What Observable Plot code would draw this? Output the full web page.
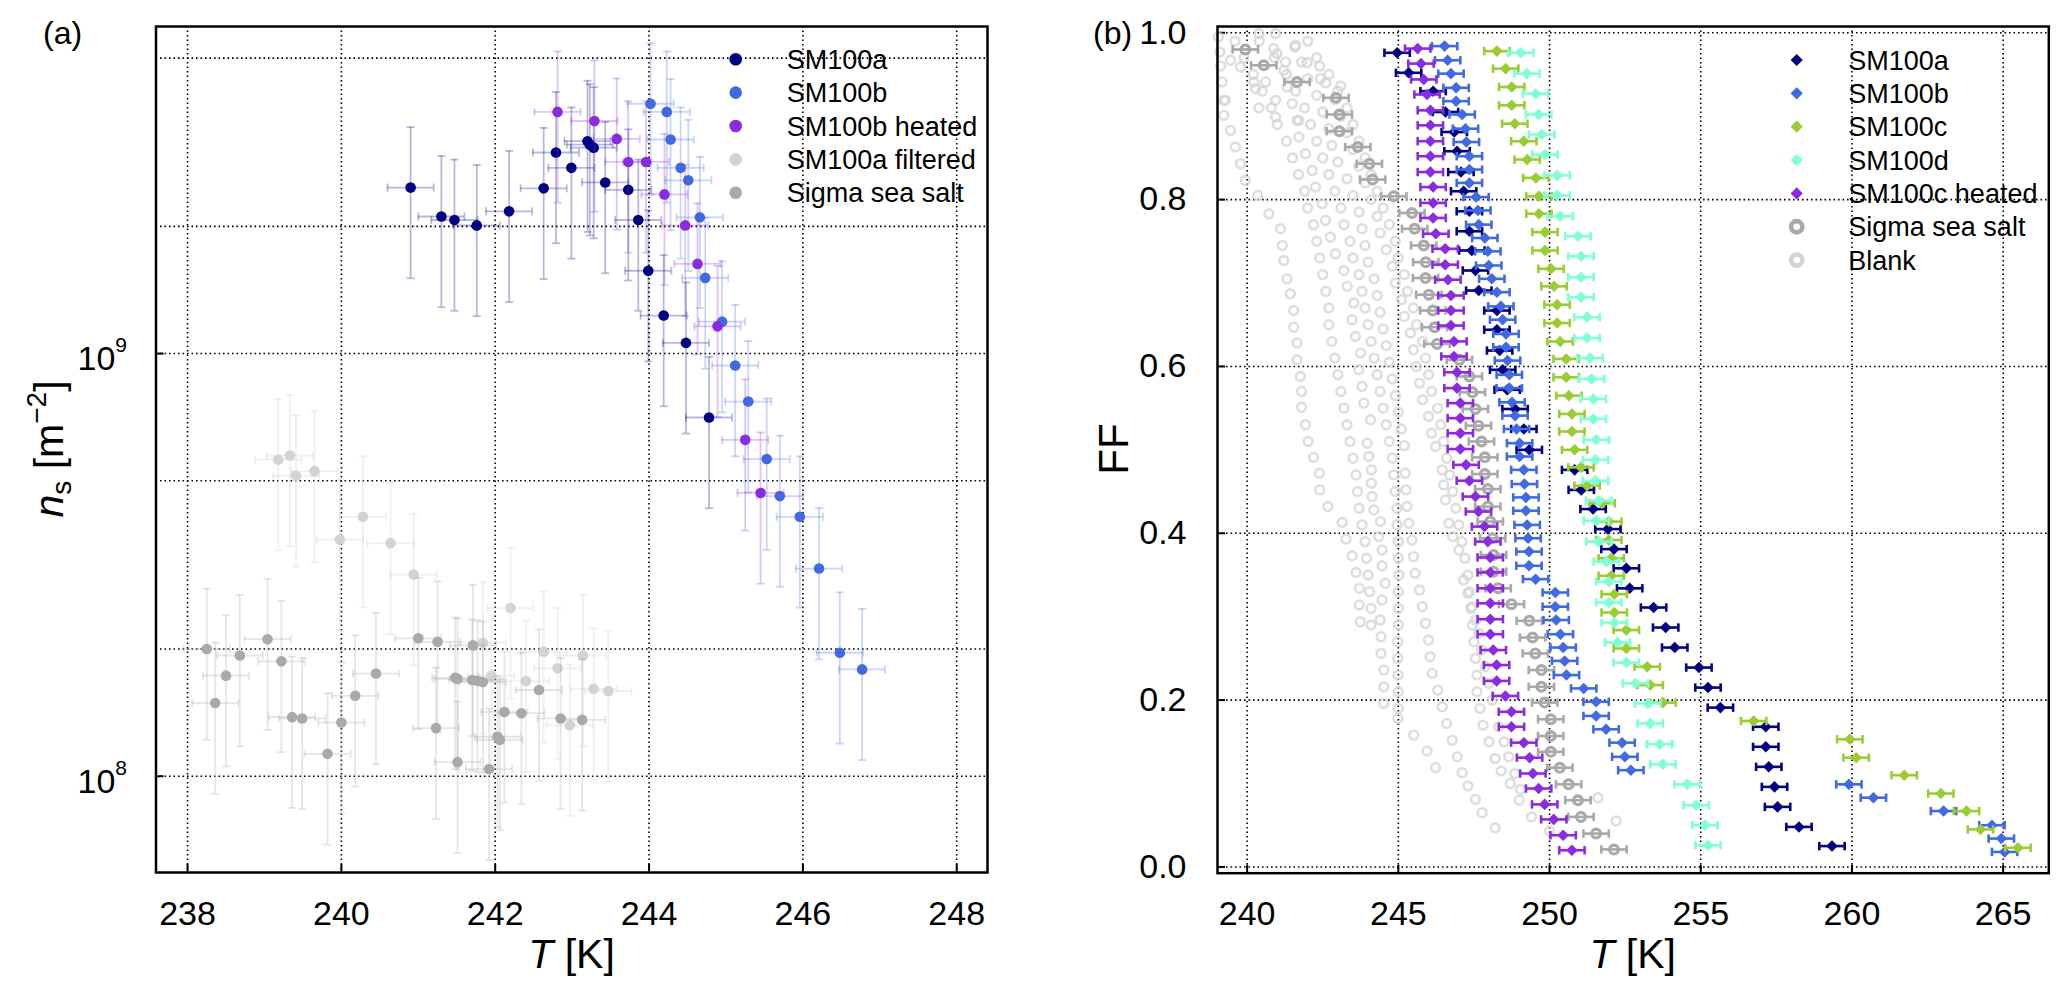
<!DOCTYPE html>
<html><head><meta charset="utf-8">
<script src="https://cdn.jsdelivr.net/npm/d3@7"></script>
<script src="https://cdn.jsdelivr.net/npm/@observablehq/plot@0.6"></script>
<style>
html,body{margin:0;padding:0;background:#fff;}
#wrap{position:relative;width:2067px;height:992px;overflow:hidden;background:#fff;font-family:"Liberation Sans",Arial,sans-serif;}
#pa,#pb,#ov{position:absolute;top:0;}
#pa{left:0}#pb{left:1030px}#ov{left:0;pointer-events:none}
</style></head><body>
<div id="wrap"><div id="pa"></div><div id="pb"></div><svg id="ov" width="2067" height="992"></svg></div>
<script>
// ---------------- Panel (a) data ----------------
const aXTicks = [238, 240, 242, 244, 246, 248];
const aYTicks = [1e8, 1e9];
const aYExp = ["8", "9"];
const aYGrid = [1e8, 2e8, 5e8, 1e9, 2e9, 5e9];
const aTErr = 0.3;      // K
const aRelErr = 0.39;   // relative n_s error

const aT_SM100a = [240.90, 241.30, 241.47, 241.76, 242.18, 242.63, 242.79, 242.99, 243.20, 243.23, 243.28, 243.43, 243.73, 243.86, 243.99, 244.19, 244.48, 244.78];
const aNs_SM100a = [2.47e9, 2.11e9, 2.07e9, 2.01e9, 2.17e9, 2.46e9, 2.99e9, 2.75e9, 3.18e9, 3.12e9, 3.07e9, 2.54e9, 2.44e9, 2.07e9, 1.57e9, 1.23e9, 1.06e9, 7.06e8];

const aT_SM100b = [244.02, 244.23, 244.28, 244.41, 244.51, 244.66, 244.73, 244.95, 245.12, 245.29, 245.53, 245.70, 245.96, 246.21, 246.48, 246.77];
const aNs_SM100b = [3.90e9, 3.73e9, 3.21e9, 2.75e9, 2.57e9, 2.10e9, 1.51e9, 1.19e9, 9.37e8, 7.70e8, 5.63e8, 4.60e8, 4.11e8, 3.10e8, 1.96e8, 1.79e8];

const aT_SM100bHeated = [242.81, 243.29, 243.58, 243.73, 243.96, 244.20, 244.47, 244.63, 244.89, 245.25, 245.45];
const aNs_SM100bHeated = [3.73e9, 3.55e9, 3.22e9, 2.84e9, 2.84e9, 2.38e9, 2.01e9, 1.63e9, 1.16e9, 6.25e8, 4.68e8];

const aT_SM100aFiltered = [239.18, 239.33, 239.41, 239.65, 239.98, 240.28, 240.64, 240.94, 242.20, 241.84, 242.63, 243.14, 242.81, 241.95, 242.40, 243.28, 243.47, 242.97];
const aNs_SM100aFiltered = [5.61e8, 5.74e8, 5.14e8, 5.27e8, 3.63e8, 4.11e8, 3.56e8, 3.00e8, 2.50e8, 2.07e8, 1.97e8, 1.93e8, 1.80e8, 1.73e8, 1.68e8, 1.61e8, 1.59e8, 1.32e8];

const aT_Sigma = [238.25, 238.50, 238.36, 238.68, 239.04, 239.22, 239.36, 239.49, 239.82, 240.00, 240.18, 240.45, 241.00, 241.25, 241.23, 241.48, 241.51, 241.51, 241.71, 241.70, 241.77, 241.84, 241.92, 242.03, 242.06, 242.12, 242.34, 242.57, 242.85, 243.13];
const aNs_Sigma = [2.00e8, 1.73e8, 1.49e8, 1.93e8, 2.11e8, 1.87e8, 1.38e8, 1.37e8, 1.13e8, 1.34e8, 1.55e8, 1.75e8, 2.12e8, 2.08e8, 1.30e8, 1.71e8, 1.70e8, 1.08e8, 2.04e8, 1.69e8, 1.68e8, 1.67e8, 1.04e8, 1.24e8, 1.22e8, 1.42e8, 1.41e8, 1.60e8, 1.37e8, 1.36e8];

const aLegendNames = ["SM100a", "SM100b", "SM100b heated", "SM100a filtered", "Sigma sea salt"];
const aLegendColors = ["#000080", "#4169E1", "#8A2BE2", "#D3D3D3", "#A9A9A9"];

// ---------------- Panel (b) data ----------------
const bXTicks = [240, 245, 250, 255, 260, 265];
const bYTicks = [0, 0.2, 0.4, 0.6, 0.8, 1.0];
const bTErr = 0.42;

const bT_SM100a = [244.96, 245.34, 246.15, 246.56, 246.85, 246.94, 247.07, 247.16, 247.35, 247.35, 247.43, 247.55, 247.66, 248.26, 248.26, 248.35, 248.45, 248.60, 248.86, 249.15, 249.33, 250.83, 251.05, 251.44, 251.93, 252.13, 252.54, 252.65, 253.44, 253.84, 254.14, 254.94, 255.24, 255.65, 257.15, 257.15, 257.25, 257.44, 257.54, 258.25, 259.34];
const bFF_SM100a = [0.976, 0.952, 0.930, 0.905, 0.881, 0.858, 0.833, 0.810, 0.786, 0.762, 0.739, 0.715, 0.691, 0.667, 0.644, 0.619, 0.596, 0.572, 0.549, 0.525, 0.500, 0.476, 0.452, 0.429, 0.405, 0.381, 0.358, 0.334, 0.311, 0.287, 0.263, 0.239, 0.215, 0.191, 0.168, 0.144, 0.120, 0.096, 0.072, 0.048, 0.025];

const bT_SM100b = [246.53, 246.63, 246.74, 246.91, 246.91, 247.11, 247.22, 247.25, 247.35, 247.35, 247.35, 247.57, 247.63, 247.66, 247.86, 247.96, 247.99, 248.09, 248.26, 248.39, 248.45, 248.56, 248.56, 248.61, 248.67, 248.67, 248.76, 248.86, 248.91, 249.01, 249.01, 249.15, 249.17, 249.22, 249.22, 249.26, 249.29, 249.32, 249.32, 249.54, 250.19, 250.19, 250.22, 250.36, 250.45, 250.50, 250.56, 251.13, 251.54, 251.54, 251.87, 252.40, 252.49, 252.69, 259.90, 260.71, 263.03, 264.63, 264.94, 265.05];
const bFF_SM100b = [0.984, 0.967, 0.951, 0.934, 0.918, 0.902, 0.885, 0.869, 0.852, 0.836, 0.820, 0.803, 0.787, 0.770, 0.754, 0.738, 0.721, 0.705, 0.689, 0.672, 0.656, 0.639, 0.623, 0.607, 0.590, 0.574, 0.557, 0.541, 0.525, 0.508, 0.492, 0.476, 0.459, 0.443, 0.427, 0.410, 0.394, 0.378, 0.361, 0.345, 0.329, 0.312, 0.296, 0.279, 0.263, 0.247, 0.230, 0.214, 0.198, 0.181, 0.165, 0.149, 0.132, 0.116, 0.099, 0.083, 0.067, 0.050, 0.034, 0.018];

const bT_SM100c = [248.26, 248.55, 248.75, 248.75, 248.85, 249.15, 249.26, 249.55, 249.65, 249.65, 249.85, 249.85, 250.05, 250.15, 250.25, 250.25, 250.35, 250.55, 250.55, 250.64, 250.74, 250.74, 250.83, 251.04, 251.24, 251.74, 251.96, 251.96, 252.04, 252.04, 252.14, 252.14, 252.54, 252.54, 253.23, 253.33, 253.75, 256.75, 259.93, 260.14, 261.73, 262.94, 263.79, 264.25, 265.49];
const bFF_SM100c = [0.978, 0.957, 0.935, 0.913, 0.891, 0.870, 0.848, 0.826, 0.804, 0.783, 0.761, 0.739, 0.717, 0.696, 0.674, 0.652, 0.630, 0.609, 0.587, 0.565, 0.543, 0.522, 0.500, 0.479, 0.457, 0.436, 0.414, 0.392, 0.370, 0.349, 0.327, 0.305, 0.284, 0.262, 0.240, 0.218, 0.197, 0.175, 0.153, 0.131, 0.110, 0.088, 0.067, 0.045, 0.023];

const bT_SM100d = [249.05, 249.25, 249.54, 249.64, 249.74, 249.85, 250.25, 250.25, 250.35, 250.94, 251.04, 251.04, 251.04, 251.24, 251.24, 251.34, 251.39, 251.45, 251.45, 251.55, 251.52, 251.52, 251.63, 251.55, 251.63, 251.88, 251.96, 251.96, 252.14, 252.25, 252.54, 252.84, 253.25, 253.33, 253.64, 253.75, 254.55, 254.85, 255.14, 255.24];
const bFF_SM100d = [0.976, 0.951, 0.927, 0.902, 0.878, 0.854, 0.829, 0.805, 0.780, 0.756, 0.732, 0.707, 0.683, 0.659, 0.634, 0.610, 0.585, 0.561, 0.537, 0.512, 0.488, 0.463, 0.439, 0.415, 0.390, 0.366, 0.342, 0.317, 0.293, 0.269, 0.245, 0.220, 0.196, 0.172, 0.147, 0.123, 0.099, 0.074, 0.050, 0.026];

const bT_SM100cHeated = [245.64, 245.75, 245.84, 245.95, 246.06, 246.06, 246.06, 246.06, 246.06, 246.15, 246.15, 246.15, 246.24, 246.55, 246.55, 246.64, 246.74, 246.74, 246.74, 246.84, 246.84, 246.94, 246.94, 247.05, 247.05, 247.05, 247.05, 247.24, 247.35, 247.55, 247.65, 247.85, 247.96, 248.04, 248.04, 248.04, 248.04, 248.04, 248.04, 248.14, 248.25, 248.25, 248.54, 248.74, 248.74, 249.15, 249.34, 249.45, 249.64, 249.84, 250.14, 250.45, 250.74];
const bFF_SM100cHeated = [0.981, 0.963, 0.944, 0.926, 0.907, 0.889, 0.870, 0.852, 0.833, 0.815, 0.796, 0.778, 0.759, 0.741, 0.722, 0.704, 0.685, 0.667, 0.649, 0.630, 0.612, 0.593, 0.574, 0.556, 0.538, 0.520, 0.501, 0.482, 0.463, 0.444, 0.426, 0.408, 0.390, 0.371, 0.353, 0.334, 0.316, 0.297, 0.279, 0.260, 0.242, 0.223, 0.205, 0.186, 0.168, 0.149, 0.131, 0.112, 0.094, 0.075, 0.057, 0.038, 0.020];

const bT_Sigma = [239.94, 240.55, 241.65, 242.94, 243.05, 243.05, 243.66, 244.04, 244.15, 244.85, 245.45, 245.54, 245.84, 245.91, 245.90, 246.01, 246.14, 246.20, 246.28, 247.02, 247.35, 247.45, 247.55, 247.65, 247.75, 247.86, 247.86, 247.96, 247.96, 248.04, 248.12, 248.15, 248.15, 248.30, 248.74, 249.33, 249.44, 249.53, 249.73, 249.73, 249.84, 250.04, 250.04, 250.04, 250.34, 250.63, 250.94, 251.04, 251.54, 252.13];
const bFF_Sigma = [0.980, 0.961, 0.941, 0.922, 0.902, 0.882, 0.863, 0.843, 0.824, 0.804, 0.784, 0.765, 0.745, 0.725, 0.706, 0.686, 0.667, 0.647, 0.627, 0.608, 0.588, 0.569, 0.549, 0.529, 0.510, 0.491, 0.471, 0.453, 0.432, 0.414, 0.394, 0.374, 0.354, 0.334, 0.315, 0.295, 0.275, 0.256, 0.236, 0.216, 0.197, 0.177, 0.157, 0.138, 0.119, 0.099, 0.080, 0.060, 0.040, 0.021];

// Blank runs: [T, FF]
const blank1 = [[239.05,0.995],[239.1,0.977],[239.12,0.96],[239.17,0.941],[239.23,0.919],[239.23,0.901],[239.45,0.883],[239.61,0.863],[239.78,0.843],[239.94,0.823],[240.35,0.805],[240.72,0.783],[241.10,0.765],[241.16,0.745],[241.21,0.727],[241.32,0.705],[241.43,0.687],[241.54,0.667],[241.54,0.647],[241.65,0.628],[241.65,0.608],[241.76,0.588],[241.80,0.570],[241.80,0.551],[241.93,0.530],[242.02,0.510],[242.20,0.491],[242.39,0.472],[242.40,0.452],[242.67,0.432],[243.14,0.413],[243.27,0.393],[243.47,0.373],[243.60,0.353],[243.71,0.334],[243.71,0.314],[243.74,0.294]];
const blank2 = [[240.99,0.975],[241.21,0.955],[241.32,0.935],[241.49,0.915],[241.71,0.895],[241.71,0.875],[241.93,0.855],[242.15,0.835],[242.26,0.815],[242.48,0.795],[242.59,0.775],[242.75,0.755],[242.92,0.735],[243.2,0.715],[243.31,0.696],[243.53,0.676],[243.47,0.656],[243.58,0.636],[243.75,0.616],[243.69,0.596],[243.8,0.576],[243.86,0.556],[244.08,0.536],[243.97,0.508],[244.02,0.492],[244.11,0.476],[244.11,0.46],[244.13,0.444],[244.19,0.428],[244.41,0.414],[244.35,0.396],[244.46,0.38],[244.46,0.361],[244.57,0.34],[244.46,0.32],[244.4,0.296],[244.43,0.276],[244.43,0.256],[244.52,0.236],[244.52,0.216],[244.52,0.196]];
const blank3 = [[240.4,0.99],[240.9,0.97],[241.3,0.95],[241.6,0.93],[241.9,0.91],[242.1,0.89],[242.3,0.87],[242.5,0.85],[242.7,0.83],[242.9,0.81],[243.1,0.79],[243.2,0.77],[243.4,0.75],[243.5,0.73],[243.7,0.71],[243.8,0.69],[243.9,0.67],[244.0,0.65],[244.1,0.63],[244.2,0.61],[244.3,0.59],[244.4,0.57],[244.5,0.55],[244.6,0.53],[244.7,0.51],[244.8,0.49],[244.85,0.47],[244.9,0.45],[244.95,0.43],[244.96,0.41],[245.0,0.39],[245.0,0.37],[245.02,0.35],[245.0,0.33],[245.0,0.31],[245.0,0.29],[244.98,0.27],[244.98,0.25],[244.99,0.23],[245.0,0.21],[245.0,0.19],[244.99,0.178],[245.51,0.158],[245.95,0.139],[246.23,0.119]];
const blank4 = [[241.6,0.985],[241.8,0.965],[242.0,0.945],[242.3,0.925],[242.5,0.905],[242.7,0.885],[242.8,0.865],[243.0,0.845],[243.3,0.825],[243.5,0.805],[243.7,0.785],[243.8,0.765],[243.9,0.745],[244.0,0.725],[244.2,0.705],[244.3,0.685],[244.4,0.665],[244.5,0.645],[244.6,0.625],[244.7,0.605],[244.8,0.585],[244.9,0.565],[245.0,0.545],[245.1,0.525],[245.2,0.505],[245.23,0.472],[245.25,0.452],[245.29,0.432],[245.35,0.412],[245.45,0.392],[245.5,0.372],[245.56,0.352],[245.7,0.332],[245.79,0.312],[245.9,0.292],[246.0,0.272],[246.05,0.252],[246.12,0.232],[246.3,0.212],[246.45,0.192],[246.6,0.172],[246.78,0.152],[246.95,0.132],[247.11,0.113],[247.3,0.097],[247.55,0.081],[247.77,0.065],[248.2,0.047]];
const blank5 = [[242.4,0.96],[242.6,0.94],[242.9,0.92],[243.1,0.9],[243.3,0.88],[243.5,0.86],[243.7,0.84],[243.9,0.82],[244.1,0.8],[244.3,0.78],[244.4,0.76],[244.6,0.74],[244.8,0.72],[244.9,0.7],[245.1,0.68],[245.2,0.66],[245.4,0.64],[245.5,0.62],[245.6,0.6],[245.7,0.58],[245.8,0.56],[246.0,0.54],[246.1,0.52],[246.23,0.504],[246.45,0.476],[246.5,0.458],[246.56,0.44],[246.67,0.412],[246.8,0.396],[247.0,0.38],[247.16,0.344],[247.3,0.328],[247.44,0.312],[247.55,0.296],[247.66,0.28],[247.75,0.26],[247.88,0.24],[248.0,0.22],[248.1,0.2],[248.32,0.168],[248.5,0.15],[248.65,0.132],[248.85,0.112],[249.04,0.093]];
const blank6 = [[242.0,0.99],[242.3,0.97],[242.7,0.95],[243.0,0.93],[243.3,0.91],[243.5,0.89],[243.7,0.87],[243.9,0.85],[244.1,0.83],[244.3,0.81],[244.5,0.79],[244.7,0.77],[244.9,0.75],[245.0,0.73],[245.2,0.71],[245.3,0.69],[245.5,0.67],[245.6,0.65],[245.8,0.63],[245.9,0.61],[246.0,0.59],[246.1,0.57],[246.3,0.55],[246.4,0.53],[246.5,0.51],[246.6,0.49],[246.7,0.47],[246.8,0.45],[246.9,0.43],[247.0,0.41],[247.1,0.39],[247.2,0.37],[247.3,0.35],[247.35,0.33],[247.4,0.31],[247.45,0.29],[247.5,0.27],[247.55,0.25],[247.6,0.23],[247.6,0.21],[247.7,0.19],[247.8,0.17],[248.0,0.15],[248.2,0.13],[248.4,0.115],[248.7,0.1],[249.0,0.08],[249.4,0.06],[250.0,0.043]];
const blank7 = [[239.6,0.99],[239.9,0.97],[240.2,0.95],[240.5,0.93],[240.8,0.91],[241.0,0.89],[241.3,0.87],[241.5,0.85],[241.7,0.83],[241.9,0.81],[242.0,0.79],[242.2,0.77],[242.3,0.75],[242.4,0.73],[242.5,0.71],[242.6,0.69],[242.7,0.67],[242.7,0.65],[242.8,0.63],[242.9,0.61],[243.0,0.59],[243.1,0.57],[243.2,0.55],[243.3,0.53],[243.4,0.51],[243.5,0.49],[243.6,0.47],[243.65,0.45],[243.7,0.43],[243.8,0.41],[243.9,0.39],[243.95,0.37],[244.0,0.35],[244.05,0.33],[244.1,0.31],[244.1,0.29]];
const blankExtra = [[240.39,0.999],[240.94,0.999],[240.88,0.981],[241.58,0.983],[239.45,0.967],[239.78,0.959],[241.27,0.965],[241.98,0.964],[240.22,0.941],[240.61,0.941],[240.28,0.933],[242.42,0.945],[243.09,0.936],[239.28,0.919],[240.39,0.910],[240.94,0.919],[240.94,0.899],[241.65,0.895],[251.6,0.083],[252.2,0.055]];

const bLegendNames = ["SM100a", "SM100b", "SM100c", "SM100d", "SM100c heated", "Sigma sea salt", "Blank"];
const bLegendColors = ["#000080", "#4169E1", "#9ACD32", "#7FFFD4", "#8A2BE2", "#A9A9A9", "#D3D3D3"];

// ---------------- helpers ----------------
const FONT = '"Liberation Sans", Arial, Helvetica, sans-serif';
const vCap = {draw(ctx, size) { const h = Math.sqrt(size / Math.PI); ctx.moveTo(0, -h); ctx.lineTo(0, h); }};
const hCap = {draw(ctx, size) { const h = Math.sqrt(size / Math.PI); ctx.moveTo(-h, 0); ctx.lineTo(h, 0); }};
const gridStyle = {stroke: "#000", strokeOpacity: 1, strokeWidth: 1.6, strokeDasharray: "1.6,2.9"};

function seriesA(T, ns) {
  return T.map((t, i) => ({T: t, ns: ns[i], tl: t - aTErr, th: t + aTErr, lo: ns[i] * (1 - aRelErr), hi: ns[i] * (1 + aRelErr)}));
}
function marksA(data, color, op) {
  const bar = {stroke: color, strokeOpacity: op, strokeWidth: 1.8};
  return [
    Plot.ruleY(data, {y: "ns", x1: "tl", x2: "th", ...bar}),
    Plot.ruleX(data, {x: "T", y1: "lo", y2: "hi", ...bar}),
    Plot.dot(data, {x: "tl", y: "ns", symbol: vCap, r: 4, fill: "none", ...bar}),
    Plot.dot(data, {x: "th", y: "ns", symbol: vCap, r: 4, fill: "none", ...bar}),
    Plot.dot(data, {x: "T", y: "lo", symbol: hCap, r: 4, fill: "none", ...bar}),
    Plot.dot(data, {x: "T", y: "hi", symbol: hCap, r: 4, fill: "none", ...bar}),
    Plot.dot(data, {x: "T", y: "ns", r: 5.3, fill: color, stroke: "none"})
  ];
}
function seriesB(T, FF) {
  return T.map((t, i) => ({T: t, FF: FF[i], tl: t - bTErr, th: t + bTErr}));
}
function marksB(data, color, ring) {
  const bar = {stroke: color, strokeWidth: 2.6};
  const pt = ring
    ? Plot.dot(data, {x: "T", y: "FF", r: 4.4, stroke: color, strokeWidth: 3.2, fill: "none"})
    : Plot.dot(data, {x: "T", y: "FF", symbol: "diamond2", r: 5.2, fill: color, stroke: "none"});
  return [
    Plot.ruleY(data, {y: "FF", x1: "tl", x2: "th", ...bar}),
    Plot.dot(data, {x: "tl", y: "FF", symbol: vCap, r: 4.2, fill: "none", ...bar}),
    Plot.dot(data, {x: "th", y: "FF", symbol: vCap, r: 4.2, fill: "none", ...bar}),
    pt
  ];
}

// ---------------- Panel (a) ----------------
const A = {w: 1030, h: 992, ml: 155.5, mr: 43, mt: 26, mb: 120};
const aInnerW = A.w - A.ml - A.mr, aInnerH = A.h - A.mt - A.mb;
const svgA = Plot.plot({
  width: A.w, height: A.h, marginLeft: A.ml, marginRight: A.mr, marginTop: A.mt, marginBottom: A.mb,
  x: {domain: [237.59, 248.40], label: null},
  y: {type: "log", domain: [5.92e7, 5.94e9], label: null},
  style: {fontFamily: FONT, background: "transparent", overflow: "visible", color: "#000"},
  marks: [
    Plot.gridX(aXTicks, gridStyle),
    Plot.gridY(aYGrid, gridStyle),
    Plot.ruleX(aXTicks, {x: d => d, insetTop: aInnerH - 8, stroke: "#000", strokeWidth: 2}),
    Plot.ruleY(aYTicks, {y: d => d, insetRight: aInnerW - 8, stroke: "#000", strokeWidth: 2}),
    ...marksA(seriesA(aT_SM100a, aNs_SM100a), aLegendColors[0], 0.28),
    ...marksA(seriesA(aT_SM100b, aNs_SM100b), aLegendColors[1], 0.28),
    ...marksA(seriesA(aT_SM100bHeated, aNs_SM100bHeated), aLegendColors[2], 0.28),
    ...marksA(seriesA(aT_SM100aFiltered, aNs_SM100aFiltered), aLegendColors[3], 0.35),
    ...marksA(seriesA(aT_Sigma, aNs_Sigma), aLegendColors[4], 0.3),
    Plot.frame({stroke: "#000", strokeWidth: 2.5}),
    Plot.axisX(aXTicks, {tickSize: 0, tickPadding: 28, fontSize: 34, label: null}),
    Plot.axisY(aYTicks, {tickSize: 0, tickPadding: 29, fontSize: 34, dy: 6, tickFormat: () => "10", label: null})
  ]
});
d3.select(svgA).selectAll('[aria-label="y-axis tick label"] text').each(function (_, i) {
  d3.select(this).append("tspan").attr("dy", "-18").attr("font-size", "21").text(aYExp[i]);
});
document.getElementById("pa").appendChild(svgA);

// ---------------- Panel (b) ----------------
const B = {w: 1037, h: 992, ml: 187, mr: 18.7, mt: 26, mb: 119.3};
const bInnerW = B.w - B.ml - B.mr, bInnerH = B.h - B.mt - B.mb;
const blankAll = [...blank1, ...blank2, ...blank3, ...blank4, ...blank5, ...blank6, ...blank7, ...blankExtra];
const svgB = Plot.plot({
  width: B.w, height: B.h, marginLeft: B.ml, marginRight: B.mr, marginTop: B.mt, marginBottom: B.mb,
  x: {domain: [239.02, 266.51], label: null},
  y: {domain: [-0.0075, 1.0075], label: null},
  style: {fontFamily: FONT, background: "transparent", overflow: "visible", color: "#000"},
  marks: [
    Plot.gridX(bXTicks, gridStyle),
    Plot.gridY(bYTicks, gridStyle),
    Plot.ruleX(bXTicks, {x: d => d, insetTop: bInnerH - 8, stroke: "#000", strokeWidth: 2}),
    Plot.ruleY(bYTicks, {y: d => d, insetRight: bInnerW - 8, stroke: "#000", strokeWidth: 2}),
    Plot.dot(blankAll, {x: d => d[0], y: d => d[1], r: 4.4, stroke: "#D3D3D3", strokeOpacity: 0.75, strokeWidth: 2.6, fill: "none"}),
    ...marksB(seriesB(bT_Sigma, bFF_Sigma), bLegendColors[5], true),
    ...marksB(seriesB(bT_SM100a, bFF_SM100a), bLegendColors[0], false),
    ...marksB(seriesB(bT_SM100b, bFF_SM100b), bLegendColors[1], false),
    ...marksB(seriesB(bT_SM100c, bFF_SM100c), bLegendColors[2], false),
    ...marksB(seriesB(bT_SM100d, bFF_SM100d), bLegendColors[3], false),
    ...marksB(seriesB(bT_SM100cHeated, bFF_SM100cHeated), bLegendColors[4], false),
    Plot.frame({stroke: "#000", strokeWidth: 2.5}),
    Plot.axisX(bXTicks, {tickSize: 0, tickPadding: 28, fontSize: 34, label: null}),
    Plot.axisY(bYTicks, {tickSize: 0, tickPadding: 31, fontSize: 34, tickFormat: d3.format(".1f"), label: null})
  ]
});
document.getElementById("pb").appendChild(svgB);

// ---------------- Overlay: labels and legends ----------------
const ov = d3.select("#ov").attr("font-family", FONT);
ov.append("text").attr("x", 43).attr("y", 44).attr("font-size", 32).text("(a)");
ov.append("text").attr("x", 1093).attr("y", 44).attr("font-size", 32).text("(b)");

function tLabel(cx) {
  const t = ov.append("text").attr("x", cx).attr("y", 968).attr("text-anchor", "middle").attr("font-size", 41);
  t.append("tspan").attr("font-style", "italic").text("T");
  t.append("tspan").text(" [K]");
}
tLabel(571.5);
tLabel(1632.7);

const yl = ov.append("text").attr("transform", "translate(63,449) rotate(-90)").attr("text-anchor", "middle").attr("font-size", 41);
yl.append("tspan").attr("font-style", "italic").text("n");
yl.append("tspan").attr("font-size", 28).attr("dy", 8).text("s");
yl.append("tspan").attr("dy", -8).text(" [m");
yl.append("tspan").attr("font-size", 28).attr("dy", -17).text("\u22122");
yl.append("tspan").attr("dy", 17).text("]");

ov.append("text").attr("transform", "translate(1128,449) rotate(-90)").attr("text-anchor", "middle").attr("font-size", 42).text("FF");

// legend (a)
aLegendNames.forEach((name, i) => {
  const y = 59.3 + i * 33.35;
  ov.append("circle").attr("cx", 735.7).attr("cy", y).attr("r", 6.3).attr("fill", aLegendColors[i]);
  ov.append("text").attr("x", 786.7).attr("y", y).attr("dy", "0.36em").attr("font-size", 27).text(name);
});
// legend (b)
const diamondPath = d3.symbol(d3.symbolDiamond2, 95)();
bLegendNames.forEach((name, i) => {
  const y = 60 + i * 33.35;
  if (i < 5) {
    ov.append("path").attr("d", diamondPath).attr("transform", `translate(1796.7,${y})`).attr("fill", bLegendColors[i]);
  } else {
    ov.append("circle").attr("cx", 1796.7).attr("cy", y).attr("r", 5.6).attr("fill", "none")
      .attr("stroke", bLegendColors[i]).attr("stroke-width", 4.6);
  }
  ov.append("text").attr("x", 1848.3).attr("y", y).attr("dy", "0.36em").attr("font-size", 27).text(name);
});
</script></body></html>
